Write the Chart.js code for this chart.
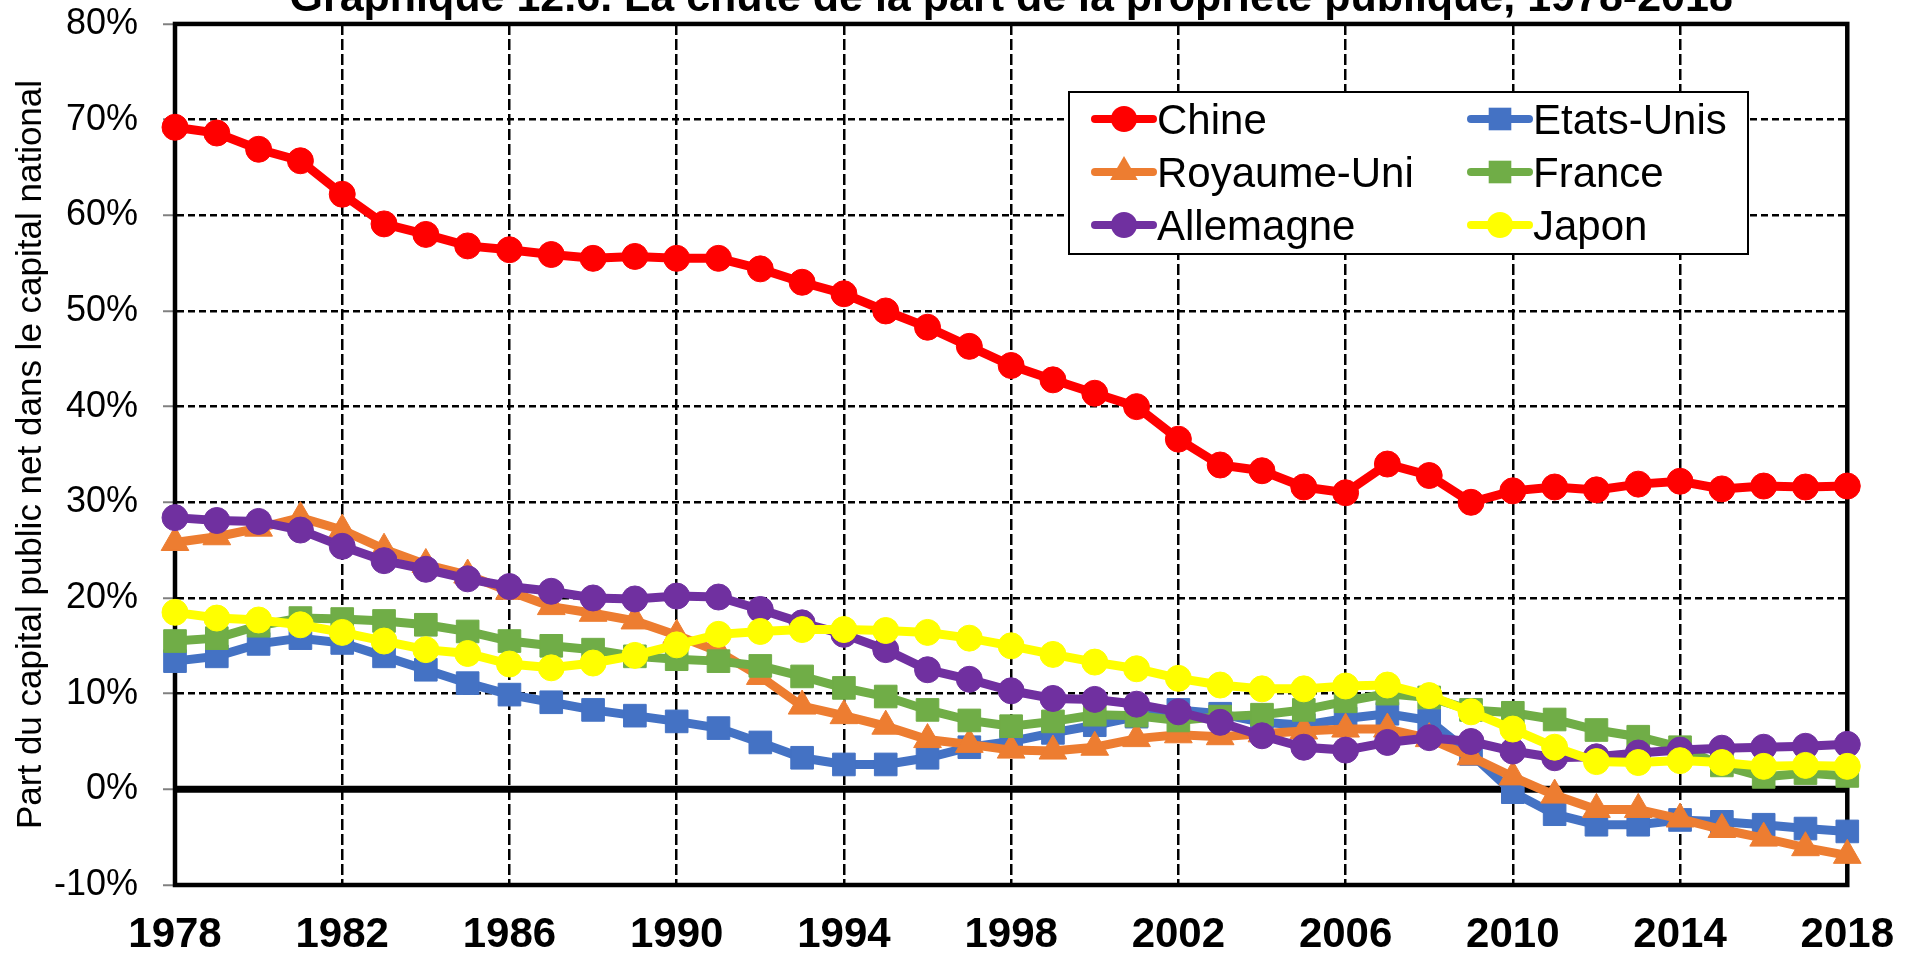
<!DOCTYPE html>
<html lang="fr">
<head>
<meta charset="utf-8">
<title>Graphique 12.6</title>
<script src="https://cdn.jsdelivr.net/npm/chart.js@4.4.1/dist/chart.umd.min.js"></script>
<style>
  html, body { margin: 0; padding: 0; background: #fff; overflow: hidden; }
  canvas { display: block; margin-top: -26px; }
</style>
</head>
<body>
<canvas id="graphique" width="1923" height="983"></canvas>
<script>
// années (axe x)
const annees = [1978, 1979, 1980, 1981, 1982, 1983, 1984, 1985, 1986, 1987,
  1988, 1989, 1990, 1991, 1992, 1993, 1994, 1995, 1996, 1997,
  1998, 1999, 2000, 2001, 2002, 2003, 2004, 2005, 2006, 2007,
  2008, 2009, 2010, 2011, 2012, 2013, 2014, 2015, 2016, 2017, 2018];

// graduations
const anneesAxe = [1978, 1982, 1986, 1990, 1994, 1998, 2002, 2006, 2010, 2014, 2018];
const pourcentsAxe = [-10, 0, 10, 20, 30, 40, 50, 60, 70, 80];

// part du capital public net (%)
const chine = [69.2, 68.6, 66.9, 65.7, 62.2, 59.1, 58.0, 56.8, 56.4, 55.9,
  55.5, 55.7, 55.5, 55.5, 54.4, 53.0, 51.8, 50.0, 48.3, 46.3,
  44.3, 42.8, 41.4, 40.0, 36.6, 33.9, 33.3, 31.6, 31.0, 34.0,
  32.8, 30.0, 31.2, 31.6, 31.3, 31.9, 32.2, 31.4, 31.7, 31.6, 31.7];
const etatsUnis = [13.4, 13.9, 15.2, 15.8, 15.3, 13.9, 12.5, 11.1, 9.9, 9.1,
  8.3, 7.7, 7.1, 6.4, 4.9, 3.3, 2.6, 2.6, 3.3, 4.4,
  5.0, 5.9, 6.7, 7.6, 8.3, 7.9, 7.0, 6.7, 7.4, 7.9,
  7.2, 3.7, -0.3, -2.6, -3.7, -3.7, -3.2, -3.4, -3.7, -4.1, -4.4];
const royaumeUni = [25.8, 26.4, 27.3, 28.4, 27.1, 25.1, 23.5, 22.4, 20.7, 19.1,
  18.4, 17.6, 16.1, 14.4, 11.8, 8.7, 7.7, 6.6, 5.2, 4.7,
  4.1, 4.0, 4.4, 5.3, 5.7, 5.5, 5.8, 6.1, 6.3, 6.3,
  5.3, 3.4, 1.3, -0.6, -2.1, -2.1, -3.1, -4.2, -5.1, -6.1, -6.9];
const france = [15.5, 15.8, 17.1, 17.9, 17.8, 17.6, 17.2, 16.5, 15.5, 15.0,
  14.6, 13.9, 13.6, 13.4, 12.9, 11.8, 10.6, 9.7, 8.3, 7.2,
  6.6, 7.1, 7.8, 7.7, 7.2, 7.6, 7.8, 8.3, 9.2, 10.0,
  9.6, 8.3, 8.0, 7.3, 6.2, 5.5, 4.4, 2.5, 1.3, 1.7, 1.4];
const allemagne = [28.4, 28.1, 28.0, 27.1, 25.4, 23.9, 23.0, 22.0, 21.2, 20.7,
  20.0, 19.9, 20.2, 20.1, 18.8, 17.4, 16.2, 14.6, 12.5, 11.5,
  10.3, 9.5, 9.4, 8.9, 8.1, 7.0, 5.6, 4.4, 4.1, 4.9,
  5.4, 5.0, 4.0, 3.3, 3.4, 3.8, 4.1, 4.3, 4.4, 4.5, 4.7];
const japon = [18.5, 17.9, 17.7, 17.2, 16.4, 15.5, 14.6, 14.2, 13.1, 12.7,
  13.2, 14.0, 15.1, 16.2, 16.5, 16.7, 16.7, 16.6, 16.4, 15.8,
  15.0, 14.1, 13.3, 12.6, 11.6, 10.9, 10.5, 10.5, 10.8, 10.9,
  9.8, 8.1, 6.3, 4.4, 2.9, 2.8, 3.0, 2.8, 2.4, 2.5, 2.4];

const police = "'Liberation Sans', Arial, sans-serif";
const decalage = 26; // le canvas est remonté pour couper le titre

function serie(label, valeurs, couleur, style, rayon, ordre) {
  return {
    label: label,
    data: valeurs.map((v, i) => ({ x: annees[i], y: v })),
    borderColor: couleur,
    backgroundColor: couleur,
    pointBackgroundColor: couleur,
    pointBorderColor: couleur,
    borderWidth: 9,
    pointStyle: style,
    pointRadius: rayon,
    pointBorderWidth: 1,
    tension: 0,
    fill: false,
    clip: false,
    order: ordre,
  };
}

// marqueur pour la légende
function marqueur(ctx, style, r, x, y) {
  ctx.beginPath();
  if (style === 'circle') {
    ctx.arc(x, y, r, 0, Math.PI * 2);
  } else if (style === 'rect') {
    const s = r * Math.SQRT1_2;
    ctx.rect(x - s, y - s, 2 * s, 2 * s);
  } else if (style === 'triangle') {
    ctx.moveTo(x, y - r);
    ctx.lineTo(x + r * Math.sin(Math.PI * 2 / 3), y + r / 2);
    ctx.lineTo(x - r * Math.sin(Math.PI * 2 / 3), y + r / 2);
    ctx.closePath();
  }
  ctx.fill();
}

// cadre + ligne du zéro
const cadre = {
  id: 'cadre',
  beforeDatasetsDraw(chart) {
    const { ctx, chartArea: a, scales } = chart;
    const y0 = scales.y.getPixelForValue(0);
    ctx.save();
    ctx.strokeStyle = '#000';
    ctx.lineWidth = 7;
    ctx.beginPath();
    ctx.moveTo(a.left, y0);
    ctx.lineTo(a.right, y0);
    ctx.stroke();
    ctx.lineWidth = 4.5;
    ctx.strokeRect(a.left, a.top, a.right - a.left, a.bottom - a.top);
    ctx.restore();
  }
};

// légende sur deux colonnes
const legende = {
  id: 'legende',
  afterDraw(chart) {
    const ctx = chart.ctx;
    ctx.save();
    ctx.fillStyle = '#fff';
    ctx.fillRect(1069, 92 + decalage, 679, 162);
    ctx.strokeStyle = '#000';
    ctx.lineWidth = 2;
    ctx.strokeRect(1069, 92 + decalage, 679, 162);
    chart.data.datasets.forEach((ds, i) => {
      const x0 = i % 2 === 0 ? 1095 : 1471;
      const base = 134 + decalage + Math.floor(i / 2) * 53;
      const yc = base - 15;
      ctx.strokeStyle = ds.borderColor;
      ctx.fillStyle = ds.borderColor;
      ctx.lineWidth = 8;
      ctx.lineCap = 'round';
      ctx.beginPath();
      ctx.moveTo(x0, yc);
      ctx.lineTo(x0 + 58, yc);
      ctx.stroke();
      marqueur(ctx, ds.pointStyle, ds.pointRadius, x0 + 29, yc);
      ctx.fillStyle = '#000';
      ctx.font = '42px ' + police;
      ctx.textBaseline = 'alphabetic';
      ctx.textAlign = 'left';
      ctx.fillText(ds.label, x0 + 62, base);
    });
    ctx.restore();
  }
};

new Chart(document.getElementById('graphique'), {
  type: 'line',
  data: {
    datasets: [
      serie('Chine', chine, '#FF0000', 'circle', 13, 6),
      serie('Etats-Unis', etatsUnis, '#4472C4', 'rect', 16, 5),
      serie('Royaume-Uni', royaumeUni, '#ED7D31', 'triangle', 16, 4),
      serie('France', france, '#70AD47', 'rect', 16, 3),
      serie('Allemagne', allemagne, '#7030A0', 'circle', 13, 2),
      serie('Japon', japon, '#FFFF00', 'circle', 13, 1),
    ],
  },
  options: {
    responsive: false,
    animation: false,
    layout: { padding: { left: 10, right: 65, top: 0, bottom: 1 } },
    plugins: {
      legend: { display: false },
      tooltip: { enabled: false },
      title: {
        display: true,
        fullSize: false,
        text: 'Graphique 12.6. La chute de la part de la propriété publique, 1978-2018',
        color: '#000',
        font: { family: police, size: 43, weight: 'bold', lineHeight: 1.15 },
        padding: { top: 0, bottom: 0.5 },
      },
    },
    scales: {
      x: {
        type: 'linear',
        min: 1978,
        max: 2018,
        afterBuildTicks: (scale) => { scale.ticks = anneesAxe.map((v) => ({ value: v })); },
        afterFit: (scale) => { scale.height = 71; },
        ticks: {
          autoSkip: false,
          maxRotation: 0,
          padding: 29,
          color: '#000',
          font: { family: police, size: 42, weight: 'bold', lineHeight: 1.0 },
          callback: (v) => String(v),
        },
        grid: { color: '#000', lineWidth: 2.5, drawTicks: false },
        border: { display: true, color: '#000', width: 4, dash: [11, 4] },
      },
      y: {
        min: -10,
        max: 80,
        afterBuildTicks: (scale) => { scale.ticks = pourcentsAxe.map((v) => ({ value: v })); },
        afterFit: (scale) => { scale.width = 165; },
        ticks: {
          padding: 25,
          color: '#000',
          font: { family: police, size: 36 },
          callback: (v) => v + '%',
        },
        grid: {
          color: (c) => (c.tick && c.tick.value === 0 ? 'rgba(0,0,0,0)' : '#000'),
          lineWidth: 2.5,
          drawTicks: true,
          tickLength: 12,
          tickColor: '#808080',
          tickWidth: 2,
        },
        border: { display: true, color: '#000', width: 4, dash: [7, 4] },
        title: {
          display: true,
          text: 'Part du capital public net dans le capital national',
          color: '#000',
          font: { family: police, size: 35 },
          padding: { top: 0, bottom: 0 },
        },
      },
    },
  },
  plugins: [cadre, legende],
});
</script>
</body>
</html>
